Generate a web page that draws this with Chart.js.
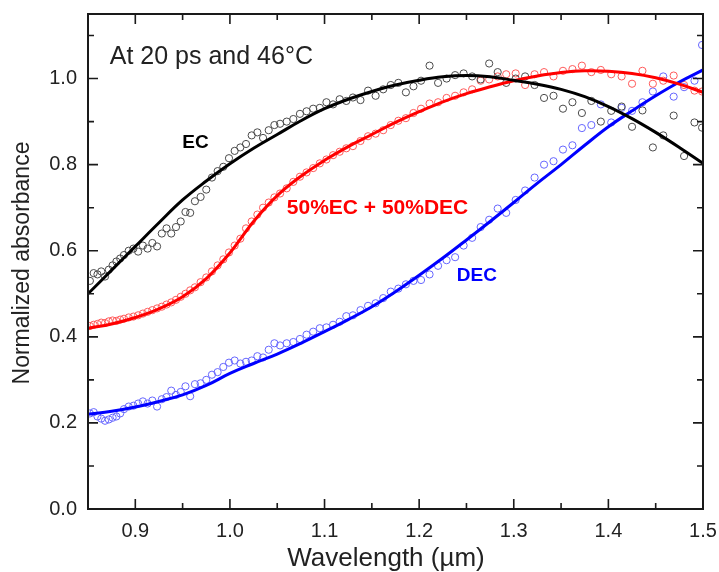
<!DOCTYPE html>
<html>
<head>
<meta charset="utf-8">
<script src="https://cdn.jsdelivr.net/npm/chart.js@4"></script>
<style>
  body { margin: 0; background: #fff; }
  canvas { display: block; }
</style>
</head>
<body>
<canvas id="chart" width="719" height="572"></canvas>
<script>
// measured points, shared wavelength grid (um)
const wavelengths = [
  0.852, 0.856, 0.860, 0.864, 0.868, 0.872, 0.876, 0.880, 0.884, 0.888,
  0.893, 0.898, 0.903, 0.908, 0.913, 0.918, 0.923, 0.928, 0.933, 0.938,
  0.943, 0.948, 0.953, 0.958, 0.963, 0.969, 0.975, 0.981, 0.987, 0.993,
  0.999, 1.005, 1.011, 1.017, 1.023, 1.029, 1.035, 1.041, 1.047, 1.053,
  1.060, 1.067, 1.074, 1.081, 1.088, 1.095, 1.102, 1.109, 1.116, 1.123,
  1.130, 1.138, 1.146, 1.154, 1.162, 1.170, 1.178, 1.186, 1.194, 1.202,
  1.211, 1.220, 1.229, 1.238, 1.247, 1.256, 1.265, 1.274, 1.283, 1.292,
  1.302, 1.312, 1.322, 1.332, 1.342, 1.352, 1.362, 1.372, 1.382, 1.392,
  1.403, 1.414, 1.425, 1.436, 1.447, 1.458, 1.469, 1.480, 1.491, 1.499
];

const ecPoints = [
  0.530, 0.548, 0.545, 0.552, 0.540, 0.556, 0.566, 0.575, 0.582, 0.590,
  0.600, 0.605, 0.598, 0.612, 0.605, 0.618, 0.610, 0.640, 0.652, 0.640,
  0.655, 0.668, 0.690, 0.688, 0.715, 0.725, 0.742, 0.770, 0.785, 0.795,
  0.815, 0.832, 0.840, 0.848, 0.868, 0.875, 0.862, 0.880, 0.892, 0.895,
  0.900, 0.906, 0.918, 0.924, 0.930, 0.932, 0.945, 0.940, 0.952, 0.948,
  0.956, 0.950, 0.972, 0.960, 0.975, 0.985, 0.990, 0.968, 0.982, 0.995,
  1.030, 0.990, 1.000, 1.008, 1.012, 1.005, 0.998, 1.035, 1.015, 0.990,
  1.000, 1.005, 0.985, 0.955, 0.960, 0.930, 0.945, 0.920, 0.948, 0.900,
  0.925, 0.935, 0.888, 0.926, 0.840, 0.868, 0.914, 0.820, 0.898, 0.886
];

const mixPoints = [
  0.425, 0.428, 0.430, 0.433, 0.432, 0.436, 0.438, 0.437, 0.440, 0.442,
  0.445, 0.447, 0.450, 0.454, 0.458, 0.462, 0.466, 0.470, 0.475, 0.480,
  0.486, 0.493, 0.500, 0.508, 0.515, 0.527, 0.538, 0.552, 0.566, 0.580,
  0.596, 0.612, 0.628, 0.652, 0.668, 0.684, 0.700, 0.712, 0.724, 0.733,
  0.745, 0.760, 0.772, 0.782, 0.792, 0.803, 0.812, 0.822, 0.830, 0.838,
  0.843, 0.855, 0.866, 0.872, 0.880, 0.892, 0.902, 0.908, 0.920, 0.930,
  0.942, 0.945, 0.955, 0.960, 0.968, 0.975, 0.995, 0.998, 1.005, 1.010,
  1.012, 0.985, 1.010, 1.015, 1.005, 1.018, 1.022, 1.030, 1.015, 1.020,
  1.010, 1.005, 0.988, 1.018, 0.988, 0.995, 1.007, 0.985, 0.972, 0.970
];

const decPoints = [
  0.222, 0.225, 0.215, 0.210, 0.205, 0.208, 0.212, 0.215, 0.222, 0.232,
  0.238, 0.240, 0.245, 0.250, 0.245, 0.252, 0.238, 0.255, 0.260, 0.275,
  0.265, 0.272, 0.285, 0.262, 0.290, 0.292, 0.300, 0.312, 0.318, 0.330,
  0.340, 0.345, 0.338, 0.342, 0.345, 0.355, 0.352, 0.370, 0.385, 0.380,
  0.385, 0.388, 0.395, 0.405, 0.412, 0.420, 0.422, 0.428, 0.435, 0.448,
  0.450, 0.462, 0.472, 0.478, 0.490, 0.505, 0.512, 0.522, 0.530, 0.532,
  0.545, 0.565, 0.578, 0.585, 0.612, 0.630, 0.655, 0.672, 0.698, 0.688,
  0.718, 0.740, 0.770, 0.800, 0.808, 0.835, 0.845, 0.885, 0.892, 0.940,
  0.898, 0.932, 0.925, 0.945, 0.970, 1.005, 0.958, 0.980, 0.995, 1.078
];

// fitted curves
const fitWavelengths = [
  0.85, 0.875, 0.90, 0.925, 0.95, 0.975, 1.0, 1.025, 1.05, 1.075,
  1.1, 1.125, 1.15, 1.175, 1.2, 1.225, 1.25, 1.275, 1.3, 1.325,
  1.35, 1.375, 1.4, 1.425, 1.45, 1.475, 1.5
];
const ecFit = [
  0.500, 0.555, 0.610, 0.665, 0.718, 0.762, 0.802, 0.838, 0.870, 0.902,
  0.930, 0.952, 0.970, 0.985, 0.996, 1.004, 1.007, 1.004, 0.996, 0.987,
  0.975, 0.958, 0.935, 0.907, 0.875, 0.840, 0.803
];
const mixFit = [
  0.420, 0.430, 0.445, 0.465, 0.493, 0.535, 0.595, 0.668, 0.728, 0.773,
  0.810, 0.842, 0.870, 0.898, 0.923, 0.946, 0.965, 0.981, 0.995, 1.006,
  1.014, 1.018, 1.017, 1.012, 1.002, 0.987, 0.968
];
const decFit = [
  0.220, 0.227, 0.237, 0.250, 0.265, 0.287, 0.315, 0.338, 0.360, 0.385,
  0.412, 0.440, 0.470, 0.505, 0.543, 0.583, 0.625, 0.668, 0.712, 0.757,
  0.800, 0.845, 0.888, 0.925, 0.960, 0.992, 1.020
];

const FONT = "'Liberation Sans', Arial, sans-serif";

function pairs(xs, ys) {
  return xs.map((x, i) => ({ x: x, y: ys[i] }));
}

function pointSet(label, ys, color) {
  return {
    type: 'scatter',
    label: label,
    data: pairs(wavelengths, ys),
    showLine: false,
    pointStyle: 'circle',
    pointRadius: 3.6,
    pointBorderWidth: 1,
    borderColor: color,
    backgroundColor: 'rgba(0,0,0,0)',
    order: 2
  };
}

function fitSet(label, ys, color) {
  return {
    type: 'line',
    label: label,
    data: pairs(fitWavelengths, ys),
    borderColor: color,
    borderWidth: 3,
    pointRadius: 0,
    tension: 0.4,
    fill: false,
    order: 1
  };
}

// no extra room for edge labels, layout padding decides the plot box
function noPad(s) {
  s.paddingLeft = 0;
  s.paddingRight = 0;
  s.paddingTop = 0;
  s.paddingBottom = 0;
}

// frame, inward ticks, labels
const decorations = {
  id: 'decorations',
  afterDatasetsDraw(chart) {
    const { ctx, chartArea: a, scales } = chart;
    const x = scales.x, y = scales.y;
    ctx.save();
    ctx.strokeStyle = '#1a1a1a';
    ctx.lineWidth = 2;
    ctx.strokeRect(a.left, a.top, a.right - a.left, a.bottom - a.top);

    ctx.lineWidth = 1.6;
    ctx.beginPath();
    x.ticks.forEach(t => {
      const px = x.getPixelForValue(t.value);
      ctx.moveTo(px, a.bottom); ctx.lineTo(px, a.bottom - 10);
      ctx.moveTo(px, a.top); ctx.lineTo(px, a.top + 10);
      const m = x.getPixelForValue(t.value - 0.05);
      if (m > a.left + 1) {
        ctx.moveTo(m, a.bottom); ctx.lineTo(m, a.bottom - 6);
        ctx.moveTo(m, a.top); ctx.lineTo(m, a.top + 6);
      }
    });
    y.ticks.forEach(t => {
      const py = y.getPixelForValue(t.value);
      ctx.moveTo(a.left, py); ctx.lineTo(a.left + 10, py);
      ctx.moveTo(a.right, py); ctx.lineTo(a.right - 10, py);
      const m = y.getPixelForValue(t.value + 0.1);
      if (m > a.top + 1) {
        ctx.moveTo(a.left, m); ctx.lineTo(a.left + 6, m);
        ctx.moveTo(a.right, m); ctx.lineTo(a.right - 6, m);
      }
    });
    ctx.stroke();

    ctx.textBaseline = 'middle';
    ctx.fillStyle = '#222';
    ctx.font = '25px ' + FONT;
    ctx.textAlign = 'left';
    ctx.fillText('At 20 ps and 46°C', x.getPixelForValue(0.873), y.getPixelForValue(1.051));

    ctx.textAlign = 'center';
    ctx.font = 'bold 19px ' + FONT;
    ctx.fillStyle = '#000';
    ctx.fillText('EC', x.getPixelForValue(0.9636), y.getPixelForValue(0.8515));
    ctx.font = 'bold 21px ' + FONT;
    ctx.fillStyle = '#ff0000';
    ctx.fillText('50%EC + 50%DEC', x.getPixelForValue(1.156), y.getPixelForValue(0.698));
    ctx.font = 'bold 19px ' + FONT;
    ctx.fillStyle = '#0000ff';
    ctx.fillText('DEC', x.getPixelForValue(1.261), y.getPixelForValue(0.543));

    // axis titles
    ctx.fillStyle = '#222';
    ctx.font = '26px ' + FONT;
    ctx.fillText('Wavelength (µm)', 386, 559);
    ctx.translate(23, 263);
    ctx.rotate(-Math.PI / 2);
    ctx.font = '23px ' + FONT;
    ctx.fillText('Normalized absorbance', 0, 0);
    ctx.restore();
  }
};

new Chart(document.getElementById('chart'), {
  data: {
    datasets: [
      fitSet('EC fit', ecFit, '#000000'),
      fitSet('50%EC + 50%DEC fit', mixFit, '#ff0000'),
      fitSet('DEC fit', decFit, '#0000ff'),
      pointSet('EC', ecPoints, '#4a4a4a'),
      pointSet('50%EC + 50%DEC', mixPoints, '#ff5a5a'),
      pointSet('DEC', decPoints, '#6666ff')
    ]
  },
  options: {
    responsive: false,
    animation: false,
    devicePixelRatio: 1,
    layout: { padding: { top: 14, right: 16, left: 0, bottom: 0 } },
    plugins: {
      legend: { display: false },
      tooltip: { enabled: false }
    },
    scales: {
      x: {
        type: 'linear',
        min: 0.85,
        max: 1.5,
        grid: { display: false, drawTicks: false },
        border: { display: false },
        ticks: {
          stepSize: 0.1,
          includeBounds: false,
          padding: 10,
          color: '#222',
          font: { family: FONT, size: 20 },
          callback: v => v.toFixed(1)
        },
        afterFit: s => { s.height = 63; noPad(s); }
      },
      y: {
        type: 'linear',
        min: 0,
        max: 1.15,
        grid: { display: false, drawTicks: false },
        border: { display: false },
        ticks: {
          stepSize: 0.2,
          includeBounds: false,
          padding: 11,
          color: '#222',
          font: { family: FONT, size: 20 },
          callback: v => v.toFixed(1)
        },
        afterFit: s => { s.width = 88; noPad(s); }
      }
    }
  },
  plugins: [decorations]
});
</script>
</body>
</html>
